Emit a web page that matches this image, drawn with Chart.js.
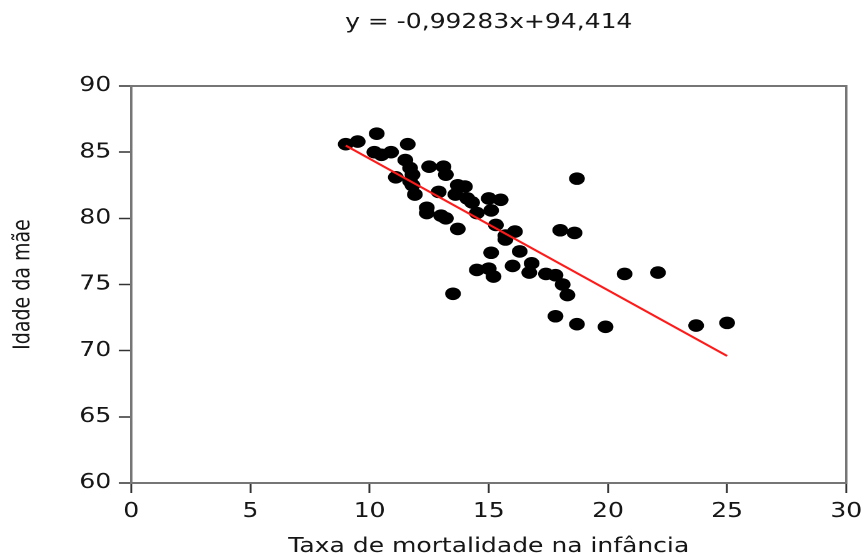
<!DOCTYPE html>
<html><head><meta charset="utf-8">
<script src="https://cdn.jsdelivr.net/npm/chart.js@4"></script>
<style>
html,body{margin:0;padding:0;background:#fff;overflow:hidden;}
#wrap{width:692px;height:557px;transform:scaleX(1.25);transform-origin:0 0;}
canvas{display:block;}
</style></head><body>
<div id="wrap"><canvas id="c" width="692" height="557" style="width:692px;height:557px"></canvas></div>
<script>
const titleText = 'y = -0,99283x+94,414';
const xAxisTitle = 'Taxa de mortalidade na infância';
const yAxisTitle = 'Idade da mãe';
const xTicks = [0, 5, 10, 15, 20, 25, 30];
const yTicks = [60, 65, 70, 75, 80, 85, 90];

const mortalidade = [
  9.0, 9.5, 10.3, 10.2, 10.5, 10.9, 11.6, 11.5, 11.7, 11.8,
  11.1, 11.7, 11.8, 11.9, 12.5, 13.1, 13.2, 12.9, 12.4, 12.4,
  13.0, 13.2, 13.7, 13.7, 14.0, 13.6, 14.1, 14.3, 14.5, 15.0,
  15.5, 15.1, 15.3, 15.7, 16.1, 15.7, 15.1, 16.3, 14.5, 15.0,
  15.2, 16.0, 16.8, 16.7, 17.4, 17.8, 18.1, 18.3, 13.5, 17.8,
  18.7, 19.9, 18.0, 18.6, 18.7, 20.7, 22.1, 23.7, 25.0
];
const idadeMae = [
  85.6, 85.8, 86.4, 85.0, 84.8, 85.0, 85.6, 84.4, 83.8, 83.3,
  83.1, 82.8, 82.5, 81.8, 83.9, 83.9, 83.3, 82.0, 80.8, 80.4,
  80.2, 80.0, 79.2, 82.5, 82.4, 81.8, 81.5, 81.2, 80.4, 81.5,
  81.4, 80.6, 79.5, 78.7, 79.0, 78.4, 77.4, 77.5, 76.1, 76.2,
  75.6, 76.4, 76.6, 75.9, 75.8, 75.7, 75.0, 74.2, 74.3, 72.6,
  72.0, 71.8, 79.1, 78.9, 83.0, 75.8, 75.9, 71.9, 72.1
];
const trendX = [9.0, 25.0];
const trendY = [85.5, 69.6];

const points = mortalidade.map((x, i) => ({x: x, y: idadeMae[i]}));
const trend = trendX.map((x, i) => ({x: x, y: trendY[i]}));

const frame = {
  id: 'frame',
  afterDatasetsDraw(chart) {
    const a = chart.chartArea, ctx = chart.ctx;
    ctx.save();
    ctx.strokeStyle = '#767676';
    ctx.lineWidth = 2;
    ctx.strokeRect(a.left, a.top, a.right - a.left, a.bottom - a.top);
    ctx.restore();
  }
};

const FONT = "'DejaVu Sans', sans-serif";
const TXT = '#161616';

new Chart(document.getElementById('c'), {
  type: 'scatter',
  data: {
    datasets: [
      {
        type: 'line',
        data: trend,
        borderColor: '#ff1a1a',
        borderWidth: 2,
        pointRadius: 0,
        fill: false,
        tension: 0,
        order: 0
      },
      {
        data: points,
        backgroundColor: '#000',
        borderWidth: 0,
        pointRadius: 6.3,
        order: 1
      }
    ]
  },
  options: {
    responsive: false,
    maintainAspectRatio: false,
    animation: false,
    devicePixelRatio: 2,
    layout: {padding: {left: 0, right: 15, top: 0, bottom: 0}},
    plugins: {
      legend: {display: false},
      tooltip: {enabled: false},
      title: {
        display: true,
        text: titleText,
        fullSize: false,
        color: TXT,
        font: {family: FONT, size: 20, weight: 'normal', lineHeight: 1.2},
        padding: {top: 11, bottom: 51}
      }
    },
    scales: {
      x: {
        type: 'linear',
        min: 0, max: 30,
        afterBuildTicks: s => { s.ticks = xTicks.map(v => ({value: v})); },
        afterFit: s => { s.height = 74; s.paddingLeft = 10; s.paddingRight = 0; },
        border: {display: false},
        grid: {drawOnChartArea: false, drawTicks: true, tickLength: 10, tickColor: '#333', tickWidth: 1.5},
        ticks: {color: TXT, padding: 7, font: {family: FONT, size: 20}, maxRotation: 0},
        title: {display: true, text: xAxisTitle, color: TXT, padding: {top: 0, bottom: 0},
                font: {family: FONT, size: 20, lineHeight: 1}}
      },
      y: {
        type: 'linear',
        min: 60, max: 90,
        afterBuildTicks: s => { s.ticks = yTicks.map(v => ({value: v})); },
        afterFit: s => { s.width = 105; },
        border: {display: false},
        grid: {drawOnChartArea: false, drawTicks: true, tickLength: 10, tickColor: '#333', tickWidth: 1.5},
        ticks: {color: TXT, padding: 6, font: {family: FONT, size: 20}},
        title: {display: true, text: yAxisTitle, color: TXT, padding: {top: 9, bottom: 0},
                font: {family: FONT, size: 19, lineHeight: 1}}
      }
    }
  },
  plugins: [frame]
});
</script>
</body></html>
